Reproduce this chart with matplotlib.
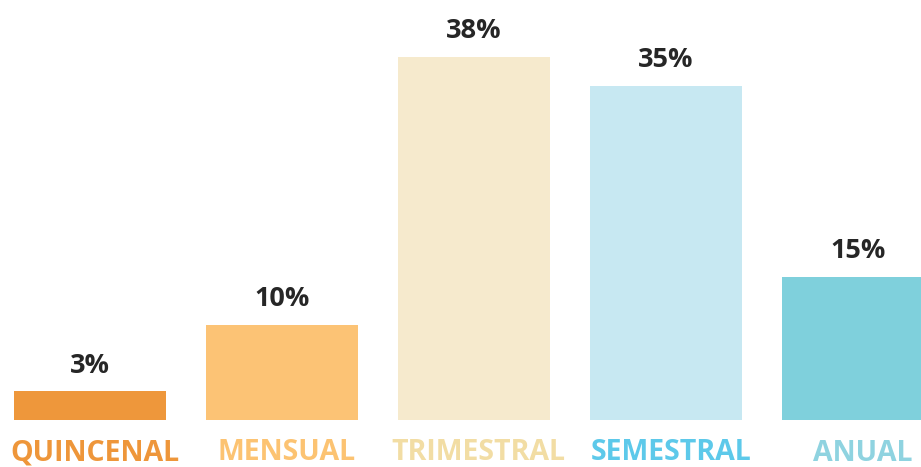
import matplotlib
matplotlib.use('Agg')
import matplotlib.pyplot as plt

categories = ['QUINCENAL', 'MENSUAL', 'TRIMESTRAL', 'SEMESTRAL', 'ANUAL']
values = [3, 10, 38, 35, 15]
bar_colors = ['#EE973B', '#FCC375', '#F6EACD', '#C7E8F2', '#7FD0DC']
label_colors = ['#EE963A', '#FCC372', '#F2DDA4', '#5DC9EA', '#8FD3E0']

plt.rcParams['font.family'] = ['Open Sans', 'DejaVu Sans']

fig = plt.figure(figsize=(9.21, 4.67), dpi=100)
ax = fig.add_axes([0, 47 / 467, 1, 420 / 467])

x = list(range(len(values)))
bars = ax.bar(x, values, width=152 / 192, color=bar_colors)

ax.set_xlim(-90 / 192, (921 - 90) / 192)
ax.set_ylim(0, 420 / 9.55)
ax.axis('off')

# percentages above the bars
for xi, v in zip(x, values):
    ax.annotate(f'{v}%', (xi, v), xytext=(0, 13.5), textcoords='offset points',
                ha='center', va='baseline', fontsize=19.5, fontweight='bold',
                color='#262626')

# category names under the bars
label_dy = [-29, -29, -29, -29, -29.5]
for xi, name, c, dy in zip(x, categories, label_colors, label_dy):
    ax.annotate(name, (xi, 0), xytext=(3.5, dy), textcoords='offset points',
                ha='center', va='baseline', fontsize=20.5, fontweight='bold',
                color=c, annotation_clip=False)

fig.savefig('out.png', dpi=100)
